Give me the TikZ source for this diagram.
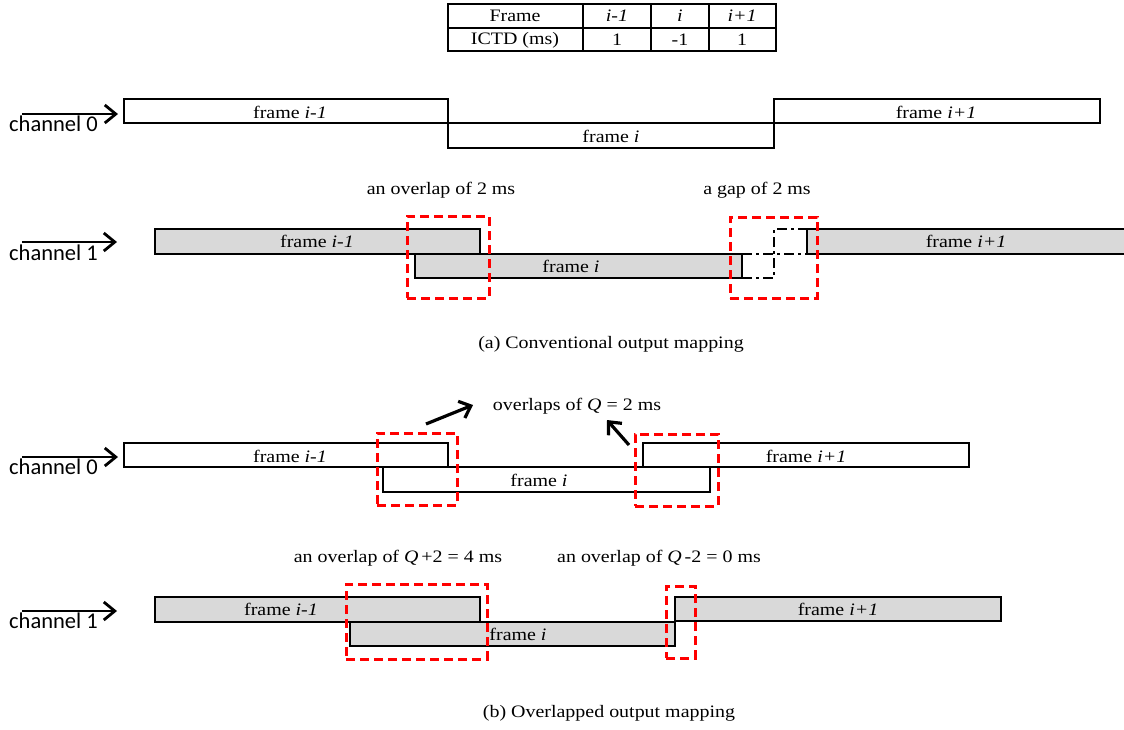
\documentclass[tikz,border=0pt]{standalone}
\usepackage{fontspec}
\setmainfont{Liberation Serif}[FakeStretch=1.14]
\newfontfamily\chanfont{Carlito}
\usetikzlibrary{arrows.meta}
\begin{document}
\begin{tikzpicture}[x=1pt,y=-1pt,
  font=\fontsize{17.5}{20}\selectfont,
  frm/.style={draw, line width=2.2pt, inner sep=0pt, outer sep=0pt, anchor=north west},
  grayfrm/.style={frm, fill=gray!30},
  rbox/.style={draw=red, line width=3pt, dash pattern=on 9pt off 5pt, inner sep=0pt, outer sep=0pt, anchor=north west},
  ghost/.style={line width=2.2pt, dash pattern=on 10pt off 4pt on 3pt off 4pt},
  chan/.style={line width=2.8pt, -{Straight Barb[length=11pt,width=18pt]}},
  callout/.style={line width=3.2pt, -{Straight Barb[length=10pt,width=18pt]}},
  chlabel/.style={font=\chanfont\fontsize{22.5}{24}\selectfont, anchor=base west, inner sep=0pt},
  lbl/.style={inner sep=0pt},
  tline/.style={line width=1.6pt}
]
\useasboundingbox (0,0) rectangle (1124,729);
\clip (0,0) rectangle (1124,729);

% ---------- ICTD table ----------
\draw[tline, line width=2pt] (448,4) rectangle (776,51);
\draw[tline] (448,28) -- (776,28);
\draw[tline] (583,4) -- (583,51);
\draw[tline] (651,4) -- (651,51);
\draw[tline] (709,4) -- (709,51);
\node[lbl] (tFrame) at (515,16) {Frame};
\node[lbl] (tICTD) at (515,40) {ICTD (ms)};
\node[lbl] (tPrev) at (617,16) {\textit{i-1}};
\node[lbl] (tCur) at (680,16) {\textit{i}};
\node[lbl] (tNext) at (742,16) {\textit{i+1}};
\node[lbl] (vPrev) at (617,40) {1};
\node[lbl] (vCur) at (680,40) {-1};
\node[lbl] (vNext) at (742,40) {1};

% ---------- (a) conventional: channel 0 ----------
\coordinate (ca0s) at (22,114);
\coordinate (ca0e) at (118,114);
\draw[chan] (ca0s) -- (ca0e);
\node[chlabel] (ca0) at (9,131) {channel 0};
\node[frm, minimum width=324pt, minimum height=24pt] (a0p) at (124,99) {};
\node[lbl] (a0pt) at (290,112) {frame \textit{i-1}};
\node[frm, minimum width=326pt, minimum height=25pt] (a0c) at (448,123) {};
\node[lbl] (a0ct) at (611,136) {frame \textit{i}};
\node[frm, minimum width=326pt, minimum height=24pt] (a0n) at (774,99) {};
\node[lbl] (a0nt) at (936,112) {frame \textit{i+1}};

% ---------- (a) conventional: channel 1 ----------
\node[lbl] (ovA) at (441,190) {an overlap of 2 ms};
\node[lbl] (gapA) at (757,190) {a gap of 2 ms};
\coordinate (ca1s) at (22,242);
\coordinate (ca1e) at (117,242);
\draw[chan] (ca1s) -- (ca1e);
\node[chlabel] (ca1) at (9,260) {channel 1};
\node[grayfrm, minimum width=325pt, minimum height=25pt] (a1p) at (155,229) {};
\node[lbl] (a1pt) at (317,241) {frame \textit{i-1}};
\node[grayfrm, minimum width=327pt, minimum height=24pt] (a1c) at (415,254) {};
\node[lbl] (a1ct) at (571,266) {frame \textit{i}};
\node[grayfrm, minimum width=330pt, minimum height=25pt] (a1n) at (807,229) {};
\node[lbl] (a1nt) at (966,241) {frame \textit{i+1}};
% frame i and frame i+1 at their conventional places, drawn as ghosts
\coordinate (gt) at (774,229);
\coordinate (gb) at (774,278);
\draw[ghost] (a1c.north east) -- (a1n.south west);
\draw[ghost] (a1c.south east) -- (gb) -- (gt) -- (a1n.north west);
\node[rbox, minimum width=82pt, minimum height=82pt] (ra1) at (407,216) {};
\node[rbox, minimum width=87pt, minimum height=81pt] (ra2) at (730,217) {};
\node[lbl] (capA) at (611,344) {(a) Conventional output mapping};

% ---------- (b) overlapped: channel 0 ----------
\node[lbl] (ovB) at (577,406) {overlaps of \textit{Q} = 2 ms};
\coordinate (cb0s) at (22,457);
\coordinate (cb0e) at (118,457);
\draw[chan] (cb0s) -- (cb0e);
\node[chlabel] (cb0) at (9,474) {channel 0};
\node[frm, minimum width=324pt, minimum height=24pt] (b0p) at (124,443) {};
\node[lbl] (b0pt) at (290,456) {frame \textit{i-1}};
\node[frm, minimum width=327pt, minimum height=25pt] (b0c) at (383,467) {};
\node[lbl] (b0ct) at (539,480) {frame \textit{i}};
\node[frm, minimum width=326pt, minimum height=24pt] (b0n) at (643,443) {};
\node[lbl] (b0nt) at (806,456) {frame \textit{i+1}};
\node[rbox, minimum width=80pt, minimum height=72pt] (rb1) at (377,433) {};
\node[rbox, minimum width=83pt, minimum height=72pt] (rb2) at (635,434) {};
\coordinate (p1) at (426,424);
\coordinate (q1) at (473,405);
\coordinate (p2) at (629,445);
\coordinate (q2) at (607,420);
\draw[callout] (p1) -- (q1);
\draw[callout] (p2) -- (q2);

% ---------- (b) overlapped: channel 1 ----------
\node[lbl] (ovB1) at (398,558) {an overlap of \textit{Q}\,+2 = 4 ms};
\node[lbl] (ovB2) at (659,558) {an overlap of \textit{Q}\,-2 = 0 ms};
\coordinate (cb1s) at (22,611);
\coordinate (cb1e) at (117,611);
\draw[chan] (cb1s) -- (cb1e);
\node[chlabel] (cb1) at (9,628) {channel 1};
\node[grayfrm, minimum width=325pt, minimum height=25pt] (b1p) at (155,597) {};
\node[lbl] (b1pt) at (281,609) {frame \textit{i-1}};
\node[grayfrm, minimum width=325pt, minimum height=24pt] (b1c) at (350,622) {};
\node[lbl] (b1ct) at (518,634) {frame \textit{i}};
\node[grayfrm, minimum width=326pt, minimum height=24pt] (b1n) at (675,597) {};
\node[lbl] (b1nt) at (838,609) {frame \textit{i+1}};
\node[rbox, minimum width=141pt, minimum height=75pt] (rb3) at (346,584) {};
\node[rbox, minimum width=29pt, minimum height=72pt] (rb4) at (666,586) {};
\node[lbl] (capB) at (609,713) {(b) Overlapped output mapping};
\end{tikzpicture}
\end{document}
